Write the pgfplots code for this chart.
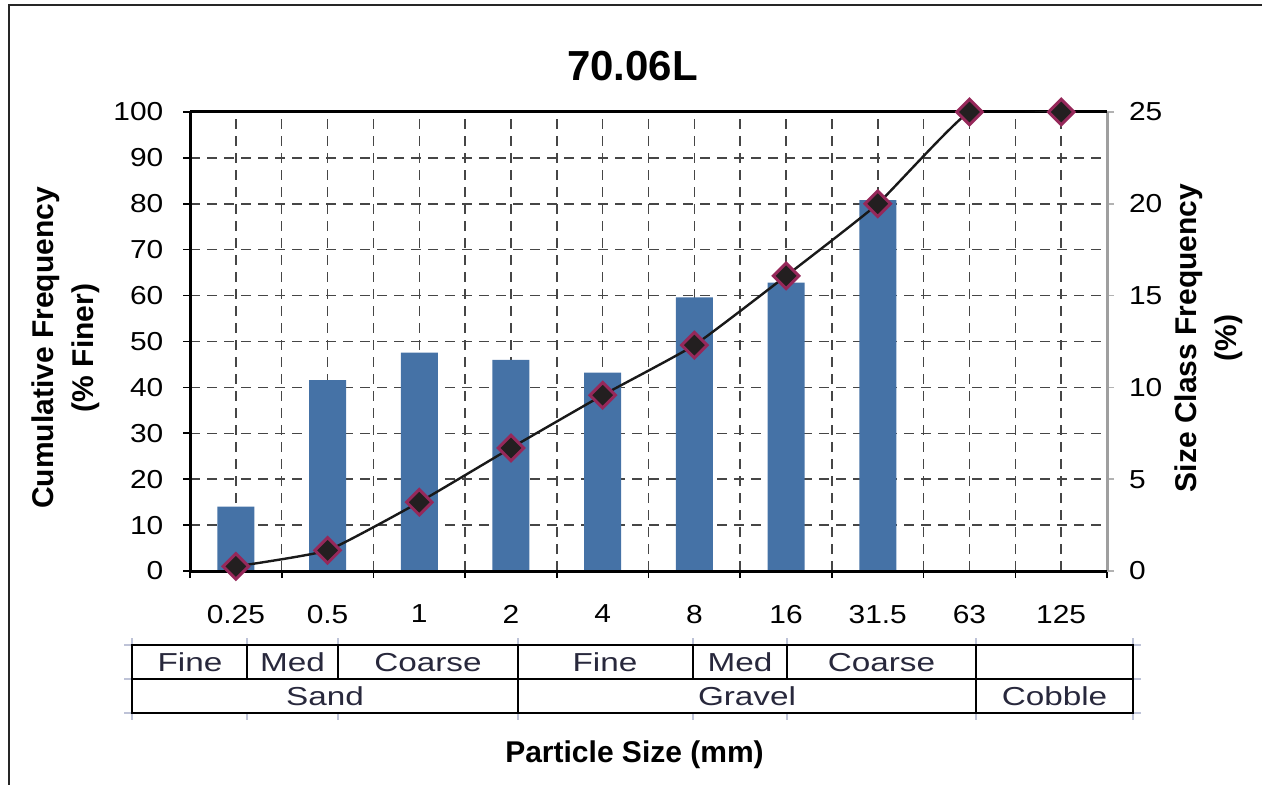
\documentclass[border=0pt]{standalone}
\usepackage{pgfplots}
\pgfplotsset{compat=1.18}
\usepackage{fontspec}
\setmainfont{Liberation Sans}
\definecolor{barblue}{RGB}{69,114,166}
\definecolor{mkborder}{RGB}{150,40,90}
\definecolor{mkfill}{RGB}{35,31,32}
\definecolor{gridgray}{RGB}{70,70,70}
\definecolor{tabtext}{RGB}{40,40,60}
\definecolor{stub}{RGB}{190,195,215}
\newcommand{\tickfont}{\fontsize{13}{15}\selectfont}
\begin{document}
\begin{tikzpicture}
\useasboundingbox (0,0) rectangle (631pt,-392.5pt);
% ---------- right axis: bars + grid
\begin{axis}[
  at={(95pt,-285.5pt)}, anchor=south west,
  scale only axis, width=458.5pt, height=229.5pt,
  xmin=-0.5, xmax=9.5, ymin=0, ymax=25,
  axis x line*=bottom, axis y line*=right,
  x axis line style={draw=none},
  y axis line style={draw=gray!75, line width=1.5pt},
  xtick={-0.5,0.5,...,9.5}, xticklabels={},
  minor xtick={0,1,...,9},
  ytick={0,5,...,25}, minor ytick={2.5,7.5,...,22.5},
  grid=both,
  major grid style={gridgray, line width=0.75pt, dash pattern=on 5pt off 3.5pt},
  minor grid style={gridgray, line width=0.75pt, dash pattern=on 5pt off 3.5pt},
  tick align=outside,
  major tick length=3.5pt, minor tick length=0pt,
  x tick style={black, line width=0.8pt},
  y tick style={gray!60, line width=0.8pt},
  yticklabel style={font=\tickfont, xscale=1.15, anchor=west, xshift=3pt},
  /pgf/number format/assume math mode=true,
  clip=true,
]
\addplot[ybar, bar width=18.5pt, fill=barblue, draw=none] coordinates {
 (0,3.5) (1,10.4) (2,11.9) (3,11.5) (4,10.8) (5,14.9) (6,15.7) (7,20.2) (8,0) (9,0)};
\end{axis}
% top frame line of plot area
\begin{scope}[x=0.5pt,y=-0.5pt]
\draw[black, line width=1.5pt] (190,112) -- (1107,112);
\end{scope}
% ---------- left axis: cumulative line
\begin{axis}[
  at={(95pt,-285.5pt)}, anchor=south west,
  scale only axis, width=458.5pt, height=229.5pt,
  xmin=-0.5, xmax=9.5, ymin=0, ymax=100,
  axis x line*=bottom, axis y line*=left,
  axis line style={black, line width=1.5pt},
  xtick={0,1,...,9},
  xticklabels={0.25,0.5,1,2,4,8,16,31.5,63,125},
  x tick style={draw=none},
  ytick={0,10,...,100},
  y tick style={black, line width=0.8pt},
  tick align=outside, major tick length=3.5pt,
  xticklabel style={font=\tickfont, xscale=1.15, yshift=-10pt},
  yticklabel style={font=\tickfont, xscale=1.15, anchor=east, xshift=-5pt},
  /pgf/number format/assume math mode=true,
]
\addplot[smooth, tension=0.25, black!90, line width=1.2pt, mark=square*, mark size=4.5pt,
  mark options={rotate=45, fill=mkfill, draw=mkborder, line width=1.5pt, solid}] coordinates {
 (0,1) (1,4.5) (2,15) (3,26.8) (4,38.3) (5,49.2) (6,64.3) (7,80) (8,100) (9,100)};
\end{axis}
% ---------- texts, frame, table
\begin{scope}[x=0.5pt,y=-0.5pt]
\draw[black!85, line width=1pt] (9,785) -- (9,5) -- (1262,5);
\node[anchor=base, font=\fontsize{21}{25}\selectfont\bfseries] at (632.5,81) {70.06L};
\node[anchor=base, font=\fontsize{15}{18}\selectfont\bfseries] at (634.5,762) {Particle Size (mm)};
\node[rotate=90, align=center, font=\fontsize{15}{20}\selectfont\bfseries] at (66,348)
  {Cumulative Frequency\\(\% Finer)};
\node[rotate=90, align=center, font=\fontsize{15}{20}\selectfont\bfseries] at (1209,338)
  {Size Class Frequency\\(\%)};
% table stubs
\foreach \yy in {645,679,713} \draw[stub, line width=0.8pt] (124,\yy) -- (132,\yy);
\foreach \xx in {132,247,338,518,693,787,976,1133} {
  \draw[stub, line width=0.8pt] (\xx,638) -- (\xx,645);
  \draw[stub, line width=0.8pt] (\xx,713) -- (\xx,720);}
\foreach \yy in {645,679,713} \draw[stub, line width=0.8pt] (1133,\yy) -- (1141,\yy);
% table
\draw[black, line width=1pt] (132,645) rectangle (1133,713);
\draw[black, line width=1pt] (132,679) -- (1133,679);
\foreach \xx in {518,976} \draw[black, line width=1pt] (\xx,645) -- (\xx,713);
\foreach \xx in {247,338,693,787} \draw[black, line width=1pt] (\xx,645) -- (\xx,679);
\begin{scope}[every node/.style={font=\tickfont, text=tabtext, xscale=1.28, anchor=base}]
\node at (190,671) {Fine};
\node at (292.5,671) {Med};
\node at (428,671) {Coarse};
\node at (605,671) {Fine};
\node at (740,671) {Med};
\node at (881.5,671) {Coarse};
\node at (325,705) {Sand};
\node at (747,705) {Gravel};
\node at (1054.5,705) {Cobble};
\end{scope}
\end{scope}
\end{tikzpicture}
\end{document}
